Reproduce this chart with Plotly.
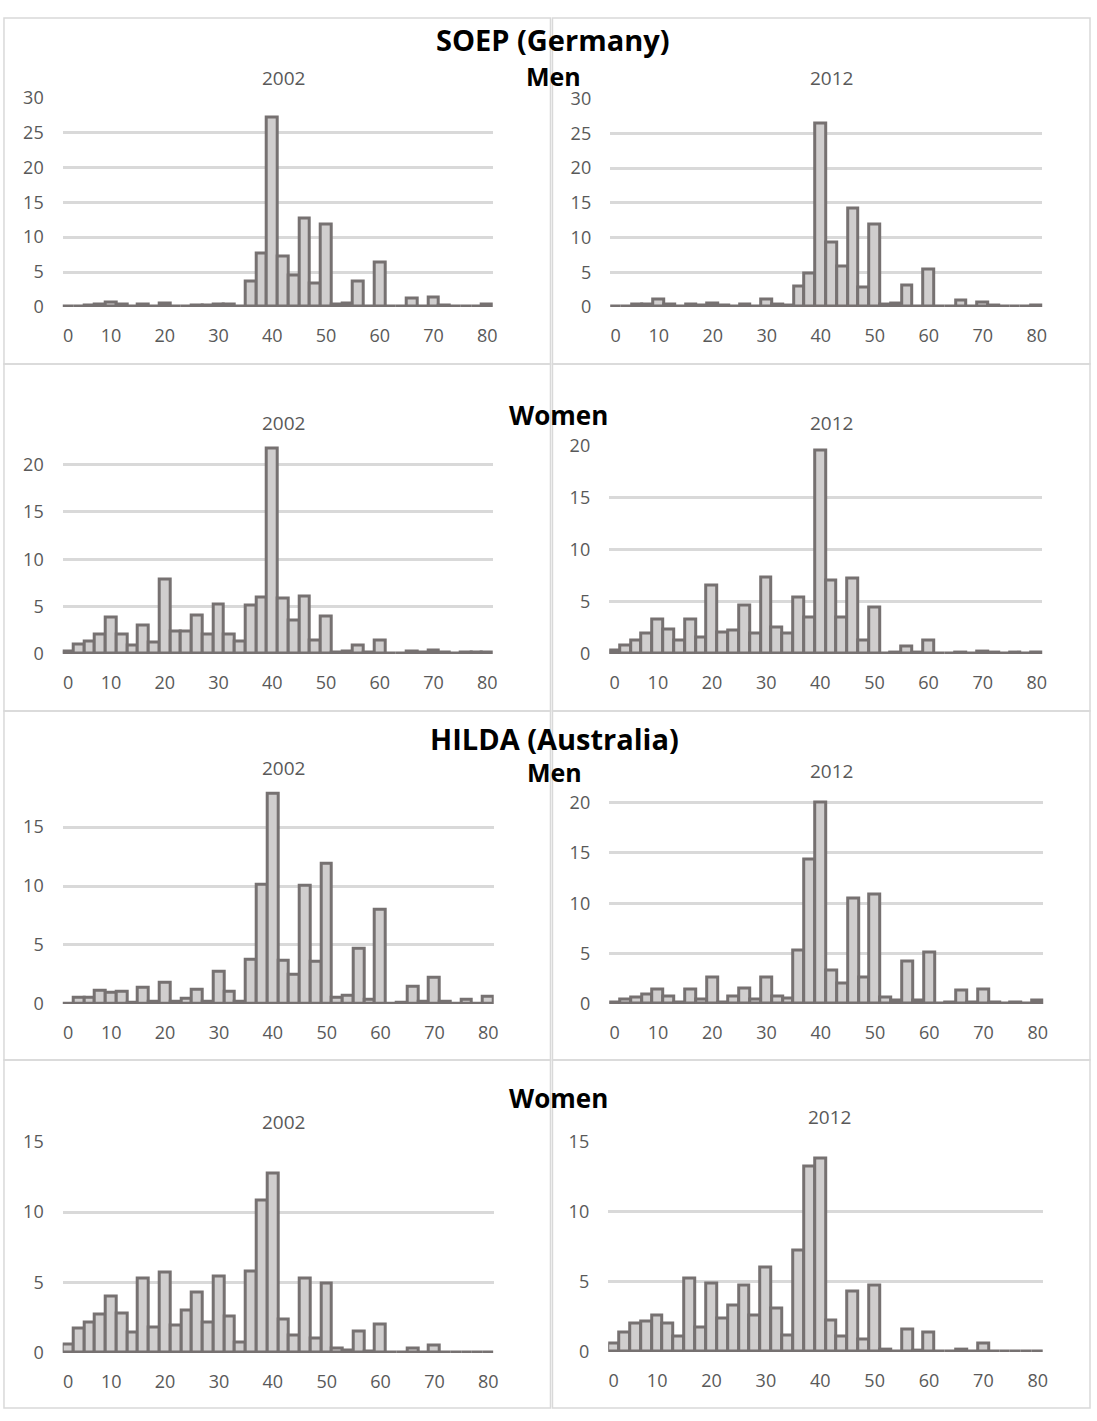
import plotly.graph_objects as go

# ---------------- data ----------------
hours = ["0", "4", "6", "8", "10", "12", "14", "16", "18", "20",
         "22", "24", "26", "28", "30", "32", "34", "36", "38", "40",
         "42", "44", "46", "48", "50", "52", "54", "56", "58", "60",
         "62", "64", "66", "68", "70", "72", "74", "76", "78", "80"]
tick_labels = ["0", "10", "20", "30", "40", "50", "60", "70", "80"]

soep_men_2002 = [0.1, 0.1, 0.2, 0.3, 0.6, 0.3, 0.1, 0.4, 0.1, 0.5,
                 0.1, 0.1, 0.2, 0.2, 0.4, 0.3, 0.1, 3.7, 7.6, 27.1,
                 7.2, 4.5, 12.7, 3.4, 11.8, 0.3, 0.5, 3.6, 0.1, 6.4,
                 0.1, 0.1, 1.2, 0.1, 1.4, 0.2, 0.0, 0.1, 0.1, 0.3]
soep_men_2012 = [0.1, 0.1, 0.3, 0.3, 1.0, 0.3, 0.1, 0.4, 0.2, 0.5,
                 0.2, 0.1, 0.4, 0.1, 1.1, 0.4, 0.2, 3.0, 4.8, 26.4,
                 9.3, 5.8, 14.2, 2.8, 11.9, 0.4, 0.5, 3.1, 0.1, 5.4,
                 0.1, 0.1, 0.9, 0.1, 0.7, 0.2, 0.0, 0.1, 0.1, 0.2]
soep_women_2002 = [0.3, 1.0, 1.3, 2.0, 3.8, 2.1, 0.9, 3.0, 1.2, 7.9,
                   2.4, 2.4, 4.1, 2.0, 5.25, 2.0, 1.3, 5.1, 6.0, 21.7,
                   5.9, 3.5, 6.1, 1.45, 3.9, 0.2, 0.3, 0.9, 0.2, 1.45,
                   0.0, 0.0, 0.25, 0.1, 0.35, 0.15, 0.05, 0.1, 0.1, 0.1]
soep_women_2012 = [0.35, 0.8, 1.25, 2.0, 3.3, 2.3, 1.3, 3.3, 1.6, 6.55,
                   2.1, 2.2, 4.65, 1.95, 7.3, 2.5, 1.95, 5.45, 3.5, 19.5,
                   7.05, 3.5, 7.25, 1.3, 4.5, 0.05, 0.1, 0.7, 0.1, 1.3,
                   0.0, 0.05, 0.15, 0.05, 0.2, 0.1, 0.05, 0.1, 0.05, 0.1]
hilda_men_2002 = [0.05, 0.5, 0.5, 1.1, 0.95, 1.0, 0.1, 1.4, 0.2, 1.8,
                  0.2, 0.45, 1.2, 0.2, 2.7, 1.0, 0.2, 3.75, 10.1, 17.8,
                  3.7, 2.45, 10.0, 3.6, 11.9, 0.5, 0.7, 4.7, 0.35, 8.0,
                  0.05, 0.1, 1.45, 0.2, 2.2, 0.15, 0.0, 0.4, 0.05, 0.65]
hilda_men_2012 = [0.1, 0.45, 0.6, 0.9, 1.45, 0.75, 0.1, 1.45, 0.45, 2.6,
                  0.15, 0.7, 1.5, 0.4, 2.6, 0.7, 0.55, 5.3, 14.3, 20.0,
                  3.3, 2.05, 10.5, 2.65, 10.9, 0.6, 0.3, 4.2, 0.3, 5.1,
                  0.05, 0.1, 1.3, 0.1, 1.4, 0.1, 0.05, 0.15, 0.05, 0.3]
hilda_women_2002 = [0.6, 1.75, 2.15, 2.75, 4.0, 2.8, 1.45, 5.3, 1.8, 5.7,
                    1.95, 3.0, 4.3, 2.15, 5.45, 2.6, 0.75, 5.75, 10.8, 12.7,
                    2.4, 1.2, 5.3, 1.0, 4.95, 0.3, 0.15, 1.5, 0.1, 2.0,
                    0.05, 0.05, 0.3, 0.05, 0.55, 0.05, 0.0, 0.0, 0.0, 0.05]
hilda_women_2012 = [0.6, 1.35, 2.05, 2.2, 2.6, 2.0, 1.1, 5.25, 1.75, 4.85,
                    2.4, 3.3, 4.7, 2.6, 6.05, 3.1, 1.2, 7.2, 13.2, 13.8,
                    2.25, 1.1, 4.3, 0.85, 4.7, 0.15, 0.05, 1.6, 0.1, 1.4,
                    0.0, 0.05, 0.2, 0.05, 0.6, 0.05, 0.05, 0.05, 0.05, 0.05]

panel_years = ["2002", "2012", "2002", "2012", "2002", "2012", "2002", "2012"]
section_labels = ["SOEP (Germany)", "Men", "Women", "HILDA (Australia)", "Men", "Women"]

# ---------------- layout (pixels) ----------------
W, H = 1097, 1421
FONT = "Open Sans"
GRAY = "#595959"

series = [soep_men_2002, soep_men_2012, soep_women_2002, soep_women_2012,
          hilda_men_2002, hilda_men_2012, hilda_women_2002, hilda_women_2012]
# (x_left, x_right, y_zero_px, y_top_px, y_max, title_x, title_y)
geo = [
    (63, 495, 299, 86, 30, 285, 66),
    (613, 1047, 299, 87, 30, 835, 66),
    (63, 495, 652, 440, 22, 285, 417),
    (612, 1047, 652, 440, 20, 835, 417),
    (63, 496, 1008, 786, 18.5, 285, 768),
    (612, 1048, 1008, 798, 20.5, 835, 771),
    (63, 496, 1363, 1148, 15, 285, 1128),
    (611, 1048, 1362, 1148, 15, 833, 1123),
]

fig = go.Figure()
layout = dict(width=W, height=H, margin=dict(l=0, r=0, t=0, b=0),
              paper_bgcolor="white", plot_bgcolor="white",
              showlegend=False, bargap=0)
annotations = []
shapes = []

for k, (vals, g, yr) in enumerate(zip(series, geo, panel_years)):
    xl, xr, y0, yt, ymax, tx, ty = g
    n = "" if k == 0 else str(k + 1)
    fig.add_trace(go.Bar(
        x=hours, y=vals, xaxis="x" + n, yaxis="y" + n,
        marker=dict(color="#D0CECE", line=dict(color="#767171", width=3)),
        hoverinfo="x+y"))
    layout["xaxis" + n] = dict(
        domain=[xl / W, xr / W], anchor="y" + n, type="category",
        categoryorder="array", categoryarray=hours,
        range=[-0.5, len(hours) - 0.5],
        tickvals=tick_labels, ticktext=tick_labels,
        showgrid=False, showline=False, zeroline=False, ticks="",
        tickfont=dict(family=FONT, size=18, color=GRAY),
        ticklabelstandoff=16, fixedrange=True)
    layout["yaxis" + n] = dict(
        domain=[1 - y0 / H, 1 - yt / H], anchor="x" + n,
        range=[0, ymax], tickvals=list(range(0, int(ymax) + 1, 5)),
        showgrid=True, gridcolor="#D9D9D9", gridwidth=3,
        showline=False, zeroline=False, ticks="",
        tickfont=dict(family=FONT, size=18, color=GRAY),
        ticklabelstandoff=18, fixedrange=True)
    annotations.append(dict(
        text=yr, x=tx / W, y=1 - ty / H, xref="paper", yref="paper",
        showarrow=False, xanchor="center", yanchor="middle",
        font=dict(family=FONT, size=19, color=GRAY)))

# bold section labels
label_pos = [(556, 27), (556, 64), (561, 409), (557, 738), (557, 772), (561, 1104)]
label_size = [29, 25, 26, 29, 25, 26]
for txt, (px, py), fs in zip(section_labels, label_pos, label_size):
    annotations.append(dict(
        text="<b>%s</b>" % txt, x=px / W, y=1 - py / H, xref="paper", yref="paper",
        showarrow=False, xanchor="center", yanchor="middle",
        font=dict(family=FONT, size=fs, color="black")))

# chart-object borders
rows = [(5, 357), (357, 710), (710, 1065), (1065, 1419)]
cols = [(4, 553), (555, 1095)]
for (ya, yb) in rows:
    for (xa, xb) in cols:
        shapes.append(dict(type="rect", xref="paper", yref="paper",
                           x0=xa / W, x1=xb / W, y0=1 - yb / H, y1=1 - ya / H,
                           line=dict(color="#D9D9D9", width=1.5), layer="below"))

layout["annotations"] = annotations
layout["shapes"] = shapes
fig.update_layout(**layout)

# remove the default 8px page margin so the figure sits at the window origin
page_fix = (
    "var de=document.documentElement, bd=document.body;"
    "de.style.margin='0';de.style.padding='0';de.style.overflow='hidden';"
    "bd.style.margin='0';bd.style.padding='0';bd.style.overflow='hidden';"
    "var gd=document.getElementById('{plot_id}');"
    "gd.style.position='fixed';gd.style.left='0px';gd.style.top='0px';"
)
fig.write_html("out.html", post_script=page_fix,
               config={"displayModeBar": False})
